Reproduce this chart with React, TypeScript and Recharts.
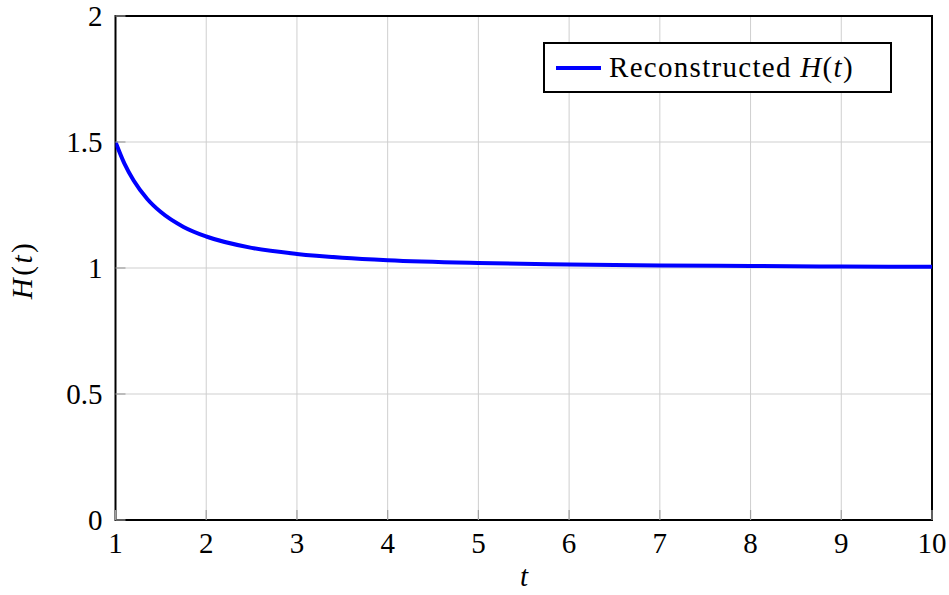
import React from "react";
import {
  LineChart,
  Line,
  XAxis,
  YAxis,
  CartesianGrid,
  ReferenceArea,
} from "recharts";

const tValues = [1, 1.1, 1.2, 1.35, 1.5, 1.75, 2, 2.5, 3, 3.5, 4, 5, 6, 7, 8, 9, 10];
const hValues = [1.5, 1.413, 1.347, 1.274, 1.222, 1.163, 1.125, 1.08, 1.056, 1.041, 1.031, 1.02, 1.014, 1.01, 1.008, 1.006, 1.005];
const xTicks = [1, 2, 3, 4, 5, 6, 7, 8, 9, 10];
const yTicks = [0, 0.5, 1, 1.5, 2];
const seriesName = "Reconstructed";

const data = tValues.map((t, i) => ({ t, h: hValues[i] }));

const FONT = "'Liberation Serif', 'DejaVu Serif', serif";
const TICK_LEN = 10;
const TICK_COLOR = "#a0a0a0";

const BottomTick = (props: any) => {
  const { x, y, payload } = props;
  return (
    <g>
      <line x1={x} y1={y} x2={x} y2={y - TICK_LEN} stroke={TICK_COLOR} strokeWidth={1.2} />
      <text x={x} y={y + 33} textAnchor="middle" fontFamily={FONT} fontSize={29} fill="#000">
        {payload.value}
      </text>
    </g>
  );
};

const TopTick = (props: any) => {
  const { x, y } = props;
  return <line x1={x} y1={y} x2={x} y2={y + TICK_LEN} stroke={TICK_COLOR} strokeWidth={1.2} />;
};

const LeftTick = (props: any) => {
  const { x, y, payload } = props;
  return (
    <g>
      <line x1={x} y1={y} x2={x + TICK_LEN} y2={y} stroke={TICK_COLOR} strokeWidth={1.2} />
      <text x={x - 13} y={y + 10} textAnchor="end" fontFamily={FONT} fontSize={29} fill="#000">
        {payload.value}
      </text>
    </g>
  );
};

const RightTick = (props: any) => {
  const { x, y } = props;
  return <line x1={x} y1={y} x2={x - TICK_LEN} y2={y} stroke={TICK_COLOR} strokeWidth={1.2} />;
};

const LegendBox = () => (
  <div
    style={{
      position: "absolute",
      left: 543,
      top: 42,
      width: 345,
      height: 47,
      border: "2px solid #000",
      background: "#fff",
      display: "flex",
      alignItems: "center",
      boxSizing: "content-box",
      fontFamily: FONT,
      fontSize: 29,
      color: "#000",
    }}
  >
    <div style={{ width: 45, height: 4, background: "#0000ff", marginLeft: 11, marginRight: 8 }} />
    <span style={{ whiteSpace: "nowrap", letterSpacing: 1.3 }}>
      {seriesName} <i>H</i>(<i>t</i>)
    </span>
  </div>
);

export default function App() {
  return (
    <div style={{ position: "absolute", left: 0, top: 0, width: 949, height: 595, background: "#fff" }}>
      <LineChart
        width={949}
        height={595}
        data={data}
        margin={{ top: 16, right: 17, bottom: 0, left: 0 }}
      >
        <CartesianGrid stroke="#cfcfcf" strokeWidth={1} xAxisId="bottom" yAxisId="left" />
        <XAxis
          xAxisId="bottom"
          dataKey="t"
          type="number"
          domain={[1, 10]}
          ticks={xTicks}
          interval={0}
          height={75}
          tickSize={0}
          tickMargin={0}
          tickLine={false}
          axisLine={false}
          tick={<BottomTick />}
          allowDataOverflow
        />
        <XAxis
          xAxisId="top"
          orientation="top"
          dataKey="t"
          type="number"
          domain={[1, 10]}
          ticks={xTicks}
          interval={0}
          height={0}
          tickSize={0}
          tickMargin={0}
          tickLine={false}
          axisLine={false}
          tick={<TopTick />}
        />
        <YAxis
          yAxisId="left"
          type="number"
          domain={[0, 2]}
          ticks={yTicks}
          interval={0}
          width={115.5}
          tickSize={0}
          tickMargin={0}
          tickLine={false}
          axisLine={false}
          tick={<LeftTick />}
        />
        <YAxis
          yAxisId="right"
          orientation="right"
          type="number"
          domain={[0, 2]}
          ticks={yTicks}
          interval={0}
          width={0}
          tickSize={0}
          tickMargin={0}
          tickLine={false}
          axisLine={false}
          tick={<RightTick />}
        />
        <Line
          xAxisId="bottom"
          yAxisId="left"
          type="monotone"
          dataKey="h"
          stroke="#0000ff"
          strokeWidth={4}
          dot={false}
          activeDot={false}
          isAnimationActive={false}
        />
        <ReferenceArea
          xAxisId="bottom"
          yAxisId="left"
          x1={1}
          x2={10}
          y1={0}
          y2={2}
          fill="none"
          fillOpacity={0}
          stroke="#000"
          strokeWidth={2}
          strokeOpacity={1}
          ifOverflow="visible"
        />
        <text x={524} y={586} textAnchor="middle" fontFamily={FONT} fontSize={29} fontStyle="italic">
          t
        </text>
        <text
          x={32}
          y={270}
          textAnchor="middle"
          fontFamily={FONT}
          fontSize={29}
          letterSpacing={2.5}
          transform="rotate(-90 32 270)"
        >
          <tspan fontStyle="italic">H</tspan>
          <tspan>(</tspan>
          <tspan fontStyle="italic">t</tspan>
          <tspan>)</tspan>
        </text>
      </LineChart>
      <LegendBox />
    </div>
  );
}
